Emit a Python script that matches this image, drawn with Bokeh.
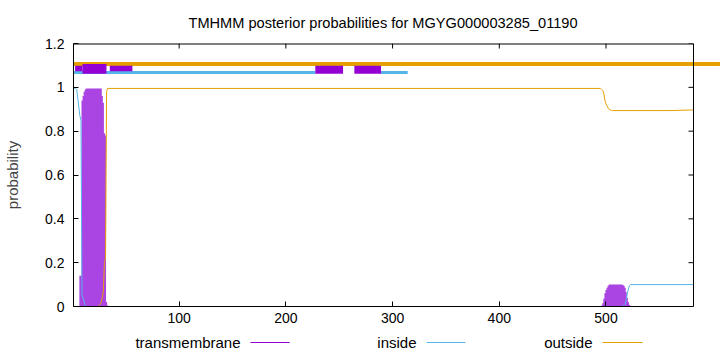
from bokeh.plotting import figure
from bokeh.models import Range1d, FixedTicker
from bokeh.layouts import column
from bokeh.core.properties import value
from bokeh.embed import file_html
from bokeh.resources import INLINE

# ---------------- data ----------------
seq_len = 582
title_text = "TMHMM posterior probabilities for MGYG000003285_01190"
series_names = ["transmembrane", "inside", "outside"]
series_colors = ["#9400d3", "#56b4e9", "#e69f00"]

# transmembrane posterior (residues around the two non-zero regions)
tm_pos = [5, 6, 7, 8, 9, 10, 11, 12, 13, 14, 15, 16, 17, 18, 19, 20, 21, 22, 23, 24, 25,
          26, 27, 28, 29, 30, 31, 32, 33, 34,
          495, 496, 497, 498, 499, 500, 501, 502, 503, 504, 505, 506, 507, 508, 509, 510,
          511, 512, 513, 514, 515, 516, 517, 518, 519, 520, 521, 522, 523, 524]
tm_prob = [0.0, 0.0, 0.14, 0.14, 0.94, 0.96, 0.98, 0.99, 0.995, 0.995, 0.995, 0.995, 0.995,
           0.995, 0.995, 0.995, 0.995, 0.995, 0.995, 0.995, 0.995, 0.995, 0.995, 0.96, 0.93,
           0.79, 0.78, 0.02, 0.005, 0.0,
           0.0, 0.005, 0.015, 0.035, 0.06, 0.075, 0.085, 0.095, 0.1, 0.1, 0.1, 0.1, 0.1,
           0.1, 0.1, 0.1, 0.1, 0.1, 0.1, 0.1, 0.1, 0.098, 0.095, 0.085, 0.065, 0.04, 0.02,
           0.008, 0.003, 0.0]

# inside posterior
inside_pos = [1, 2, 3, 4, 5, 6, 7, 8, 9, 10, 11, 12, 13, 515, 516, 517, 518, 519, 520,
              521, 522, 523, 582]
inside_prob = [0.995, 0.995, 0.995, 0.99, 0.95, 0.91, 0.87, 0.85, 0.05, 0.04, 0.02, 0.005,
               0.0, 0.0, 0.002, 0.005, 0.01, 0.03, 0.06, 0.08, 0.095, 0.1, 0.1]

# outside posterior
outside_pos = [1, 24, 25, 26, 27, 28, 29, 30, 31, 32, 33, 495, 496, 497, 498, 499, 500,
               501, 502, 503, 504, 505, 506, 560, 582]
outside_prob = [0.0, 0.0, 0.005, 0.01, 0.02, 0.04, 0.07, 0.2, 0.22, 0.98, 0.995, 0.995,
                0.99, 0.985, 0.97, 0.94, 0.925, 0.915, 0.905, 0.9, 0.897, 0.895, 0.894,
                0.894, 0.897]

# topology marks drawn above the curves
top_outside_start = [1]
top_outside_end = [640]
top_outside_level = [1.107]
top_inside_start = [1, 289.2]
top_inside_end = [227.6, 314.2]
top_inside_level = [1.068, 1.068]
tm_box_left = [2.5, 9.4, 35.0, 227.6, 264.2]
tm_box_right = [9.4, 31.9, 56.2, 253.6, 289.2]
tm_box_bottom = [1.073, 1.062, 1.073, 1.062, 1.062]
tm_box_top = [1.098, 1.107, 1.098, 1.099, 1.099]

x_ticks = [100, 200, 300, 400, 500]
y_ticks = [0, 0.2, 0.4, 0.6, 0.8, 1.0, 1.2]
y_tick_labels = ["0", "0.2", "0.4", "0.6", "0.8", "1", "1.2"]

# ---------------- layout constants ----------------
W = 720
H_MAIN, H_LEG = 332, 20
FL, FR, FT, FB = 73, 693, 43, 306      # gnuplot box in pixels
FONT = "Liberation Sans"
TICK = 5
TITLE_LEFT = 188

x_start, x_end = 1, seq_len
y_start, y_end = 0, 1.2
x_per_px = (x_end - x_start) / (FR - FL)
y_per_px = (y_end - y_start) / (FB - FT)
x_frame_end = x_end + (W - FR) * x_per_px   # frame runs to the window edge

p = figure(width=W, height=H_MAIN, output_backend="svg", toolbar_location=None,
           x_range=Range1d(x_start, x_frame_end), y_range=Range1d(y_start, y_end),
           min_border_left=FL, min_border_right=0, min_border_top=FT,
           min_border_bottom=H_MAIN - FB, background_fill_color="white",
           border_fill_color="white")
p.outline_line_color = None
p.grid.visible = False

p.title.text = title_text
p.title.align = "left"
p.title.offset = TITLE_LEFT - FL
p.title.vertical_align = "top"
p.title.text_font = FONT
p.title.text_font_size = "14.6px"
p.title.text_font_style = "normal"
p.title.text_color = "black"
p.title.standoff = 22

xa = p.xaxis[0]
xa.ticker = FixedTicker(ticks=x_ticks)
xa.bounds = (x_start, x_end)
ya = p.yaxis[0]
ya.ticker = FixedTicker(ticks=y_ticks)
ya.major_label_overrides = {t: s for t, s in zip(y_ticks, y_tick_labels)}
ya.axis_label = "probability"
ya.axis_label_text_font = FONT
ya.axis_label_text_font_size = "15px"
ya.axis_label_text_font_style = "normal"
ya.axis_label_standoff = 21
for ax in (xa, ya):
    ax.major_tick_in = TICK
    ax.major_tick_out = 0
    ax.minor_tick_line_color = None
    ax.major_label_text_font = FONT
    ax.major_label_text_font_size = "14px"
    ax.major_label_text_color = "black"
    ax.axis_line_color = "black"
    ax.major_tick_line_color = "black"
xa.major_label_standoff = 6
ya.major_label_standoff = 9

# posterior curves
p.varea_step(x=tm_pos, y1=[0] * len(tm_pos), y2=tm_prob, step_mode="center",
             fill_color="#aa44e2")
p.line(inside_pos, inside_prob, line_color=series_colors[1], line_width=1)
p.line(outside_pos, outside_prob, line_color=series_colors[2], line_width=1)

# topology marks
p.segment(x0=top_outside_start, y0=top_outside_level, x1=top_outside_end,
          y1=top_outside_level, line_color=series_colors[2], line_width=4)
p.segment(x0=top_inside_start, y0=top_inside_level, x1=top_inside_end,
          y1=top_inside_level, line_color=series_colors[1], line_width=3)
p.quad(left=tm_box_left, right=tm_box_right, bottom=tm_box_bottom, top=tm_box_top,
       fill_color=series_colors[0], line_color=None)

# remaining border of the gnuplot box (top and right) with mirrored ticks
p.segment(x0=[x_start], y0=[y_end], x1=[x_end], y1=[y_end], line_color="black",
          line_width=2)
p.segment(x0=[x_end], y0=[y_start], x1=[x_end], y1=[y_end], line_color="black",
          line_width=1)
p.segment(x0=[x_end] * len(y_ticks), y0=y_ticks,
          x1=[x_end - TICK * x_per_px] * len(y_ticks), y1=y_ticks,
          line_color="black", line_width=1)
p.segment(x0=x_ticks, y0=[y_end] * len(x_ticks), x1=x_ticks,
          y1=[y_end - TICK * y_per_px] * len(x_ticks), line_color="black", line_width=1)

# legend strip below (label, then sample line); its frame lines up with the main one,
# so its x range is expressed in window pixels from FL to W
leg = figure(width=W, height=H_LEG, output_backend="svg", toolbar_location=None,
             x_range=Range1d(FL, W), y_range=Range1d(H_LEG, 0),
             min_border_left=FL, min_border_right=0, min_border_top=0,
             min_border_bottom=0, background_fill_color="white",
             border_fill_color="white")
leg.outline_line_color = None
leg.axis.visible = False
leg.grid.visible = False
leg_text_right = [240, 416, 592]
leg_line_start = [250, 426, 602]
leg_line_end = [289, 465, 642]
leg_mid = [H_LEG / 2] * 3
leg.text(x=leg_text_right, y=leg_mid, text=series_names, text_align="right",
         text_baseline="middle", text_font=value(FONT), text_font_size="15px",
         text_color="black")
leg.segment(x0=leg_line_start, y0=leg_mid, x1=leg_line_end, y1=leg_mid,
            line_color=series_colors, line_width=1)

layout = column(p, leg, spacing=0)
open("out.html", "w").write(file_html(layout, INLINE))
